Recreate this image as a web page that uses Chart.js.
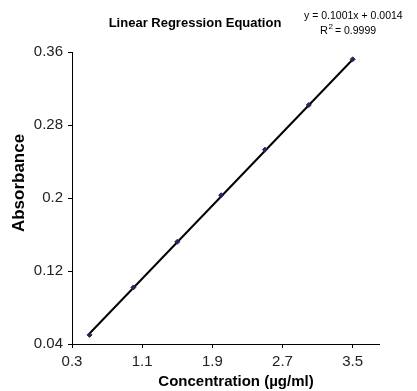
<!DOCTYPE html>
<html>
<head>
<meta charset="utf-8">
<script src="https://cdn.jsdelivr.net/npm/chart.js@4.4.1/dist/chart.umd.min.js"></script>
<style>
  html, body { margin: 0; padding: 0; background: #fff; }
  #wrap { width: 417px; height: 391px; }
</style>
</head>
<body>
<div id="wrap"><canvas id="chart"></canvas></div>
<script>
// measured points (concentration vs absorbance)
var concentration = [0.5, 1.0, 1.5, 2.0, 2.5, 3.0, 3.5];
var absorbance = [0.050, 0.102, 0.152, 0.203, 0.253, 0.302, 0.352];

// trendline end points
var trendX = [0.5, 3.5];
var trendY = [0.0515, 0.3518];

var xTicks = [0.3, 1.1, 1.9, 2.7, 3.5];
var yTicks = [0.04, 0.12, 0.2, 0.28, 0.36];

var titleText = "Linear Regression Equation";
var equationText = "y = 0.1001x + 0.0014";
var rSquaredText = "0.9999";
var xTitle = "Concentration (\u00b5g/ml)";
var yTitle = "Absorbance";

var FONT = "'Liberation Sans', Arial, sans-serif";

var points = concentration.map(function (c, i) { return { x: c, y: absorbance[i] }; });
var trend = trendX.map(function (c, i) { return { x: c, y: trendY[i] }; });

var textPlugin = {
    id: 'texts',
    afterDraw: function (chart) {
        var ctx = chart.ctx;
        ctx.save();
        ctx.fillStyle = '#000';
        ctx.textBaseline = 'middle';
        ctx.textAlign = 'center';

        ctx.font = 'bold 13px ' + FONT;
        ctx.fillText(titleText, 195, 23);

        // trendline equation, top right
        ctx.font = '10.5px ' + FONT;
        ctx.textAlign = 'left';
        ctx.fillText(equationText, 304, 16);
        ctx.font = '11px ' + FONT;
        ctx.fillText('R', 320, 31);
        var rw = ctx.measureText('R').width;
        ctx.font = '8px ' + FONT;
        ctx.fillText('2', 320 + rw + 0.5, 27);
        ctx.font = '10.5px ' + FONT;
        ctx.fillText('= ' + rSquaredText, 320 + rw + 7, 31);

        ctx.textAlign = 'center';
        ctx.font = 'bold 15px ' + FONT;
        ctx.fillText(xTitle, 236, 382);

        ctx.translate(19, 183);
        ctx.rotate(-Math.PI / 2);
        ctx.font = 'bold 17px ' + FONT;
        ctx.fillText(yTitle, 0, 0);
        ctx.restore();
    }
};

var ctx = document.getElementById("chart").getContext("2d");

var chart = new Chart(ctx, {
    type: 'scatter',
    data: {
        datasets: [
            {
                label: 'Absorbance',
                data: points,
                showLine: false,
                pointStyle: 'rectRot',
                pointRadius: 2.5,
                backgroundColor: '#25255e',
                borderColor: '#25255e',
                order: 0
            },
            {
                label: 'Linear',
                data: trend,
                showLine: true,
                borderColor: '#000',
                borderWidth: 2,
                pointRadius: 0,
                fill: false,
                order: 1
            }
        ]
    },
    options: {
        responsive: true,
        maintainAspectRatio: false,
        animation: false,
        layout: { padding: { left: 0, top: 52, right: 38, bottom: 0 } },
        plugins: {
            legend: { display: false },
            tooltip: { enabled: false }
        },
        scales: {
            x: {
                type: 'linear',
                min: 0.3,
                max: 3.8,
                afterBuildTicks: function (scale) {
                    scale.ticks = xTicks.map(function (v) { return { value: v }; });
                },
                afterFit: function (scale) { scale.height = 47; },
                border: { display: true, color: '#000', width: 1 },
                grid: { display: true, drawOnChartArea: false, drawTicks: true, tickLength: 4, color: '#000' },
                ticks: {
                    padding: 5,
                    color: '#222',
                    font: { family: FONT, size: 15 },
                    callback: function (v) { return String(v); }
                }
            },
            y: {
                type: 'linear',
                min: 0.04,
                max: 0.36,
                afterBuildTicks: function (scale) {
                    scale.ticks = yTicks.map(function (v) { return { value: v }; });
                },
                afterFit: function (scale) { scale.width = 72; },
                border: { display: true, color: '#000', width: 1 },
                grid: { display: true, drawOnChartArea: false, drawTicks: true, tickLength: 4, color: '#000' },
                ticks: {
                    padding: 5,
                    color: '#222',
                    font: { family: FONT, size: 15 },
                    callback: function (v) { return String(v); }
                }
            }
        }
    },
    plugins: [textPlugin]
});
</script>
</body>
</html>
